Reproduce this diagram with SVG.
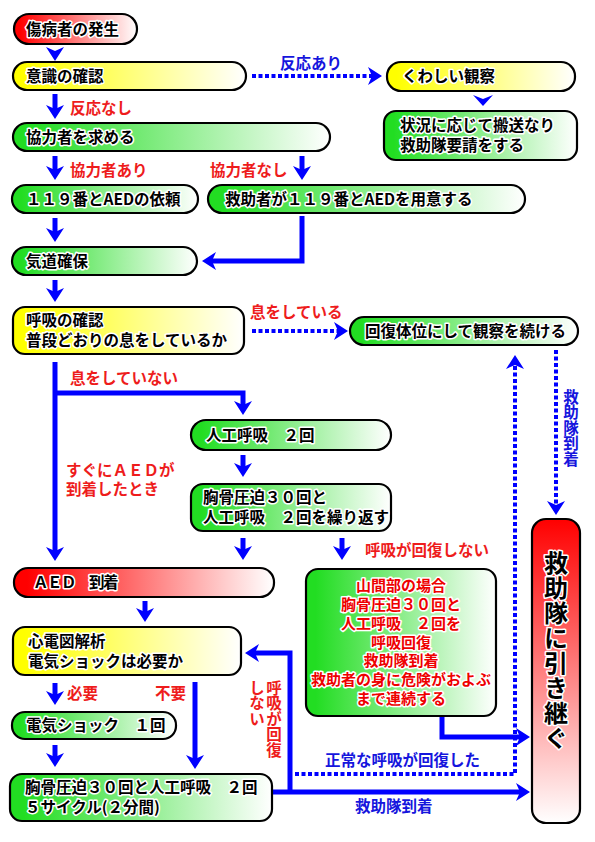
<svg xmlns="http://www.w3.org/2000/svg" width="595" height="842" viewBox="0 0 595 842">
<defs>
<linearGradient id="gR" x1="0" y1="0" x2="1" y2="0"><stop offset="0" stop-color="#ff0000"/><stop offset="0.05" stop-color="#ff0000"/><stop offset="1" stop-color="#ffffff"/></linearGradient>
<linearGradient id="gY" x1="0" y1="0" x2="1" y2="0"><stop offset="0" stop-color="#ffff00"/><stop offset="0.05" stop-color="#ffff00"/><stop offset="1" stop-color="#ffffff"/></linearGradient>
<linearGradient id="gG" x1="0" y1="0" x2="1" y2="0"><stop offset="0" stop-color="#22dd22"/><stop offset="0.05" stop-color="#22dd22"/><stop offset="1" stop-color="#ffffff"/></linearGradient>
<linearGradient id="gRV" x1="0" y1="0" x2="0" y2="1"><stop offset="0" stop-color="#ff0000"/><stop offset="1" stop-color="#ffffff"/></linearGradient>
<marker id="ah" markerUnits="userSpaceOnUse" viewBox="0 0 14 18" markerWidth="14" markerHeight="18" refX="4" refY="9" orient="auto"><path d="M0,0 L14,9 L0,18 L4,9 z" fill="#0000ff"/></marker>
</defs>
<style>
.n rect{stroke:#000;stroke-width:2.2}
.t{font-family:"Noto Sans CJK JP","Noto Sans",sans-serif;font-size:15.5px;font-weight:bold;fill:#000;stroke:#fff;stroke-width:3;paint-order:stroke;stroke-linejoin:round}
.rt{fill:#ee0000;font-size:15px}
.l{font-family:"Noto Sans CJK JP","Noto Sans",sans-serif;font-size:15.5px;font-weight:bold}
.lr{fill:#ee1c1c}
.lb{fill:#1515dd}
.v{writing-mode:vertical-rl;text-orientation:upright}
.c{fill:none;stroke:#0000ff;stroke-width:5;marker-end:url(#ah)}
.d{fill:none;stroke:#0000ff;stroke-width:4;stroke-dasharray:4 2.5;marker-end:url(#ah)}
.h{fill:#0000ff}
</style>

<g id="connectors">
<polygon class="h" points="46,47 55,51 64,47 55,61"/>
<path class="c" d="M55,94 V109"/>
<path class="d" d="M252,76 H372"/>
<polygon class="h" points="473,95 483,99 493,95 483,106"/>
<path class="c" d="M55,156 V170"/>
<path class="c" d="M302,156 V170"/>
<path class="c" d="M55,218 V232"/>
<path class="c" d="M302,216 V261 H212"/>
<path class="c" d="M55,280 V292"/>
<path class="d" d="M252,331 H338"/>
<path class="c" d="M55,362 V551"/>
<path class="c" d="M55,393 H243 V405"/>
<path class="c" d="M243,455 V467"/>
<path class="c" d="M243,538 V550"/>
<path class="c" d="M342,538 V550"/>
<path class="c" d="M145,601 V612"/>
<path class="c" d="M55,683 V695"/>
<path class="c" d="M195,682 V759"/>
<path class="c" d="M55,745 V757"/>
<path class="c" d="M272,792 H520"/>
<path class="c" d="M290,792 V653 H255"/>
<path class="c" d="M442,715 V737 H520"/>
<path class="d" d="M295,774 H515 V365"/>
<path class="d" d="M556,350 V505"/>
</g>

<g id="n1" class="n"><rect x="14" y="14" width="123" height="30" rx="15" fill="url(#gR)"/><text class="t" x="26" y="34.5">傷病者の発生</text></g>
<g id="n2" class="n"><rect x="13" y="62" width="233" height="28" rx="14" fill="url(#gY)"/><text class="t" x="26" y="81.5">意識の確認</text></g>
<g id="n3" class="n"><rect x="13" y="123" width="317" height="28" rx="14" fill="url(#gG)"/><text class="t" x="26" y="142.5">協力者を求める</text></g>
<g id="n4" class="n"><rect x="12" y="185" width="186" height="28" rx="14" fill="url(#gG)"/><text class="t" x="26" y="204.5">１１９番とAEDの依頼</text></g>
<g id="n5" class="n"><rect x="208" y="185" width="317" height="28" rx="14" fill="url(#gG)"/><text class="t" x="225" y="204.5">救助者が１１９番とAEDを用意する</text></g>
<g id="n6" class="n"><rect x="12" y="247" width="185" height="28" rx="14" fill="url(#gG)"/><text class="t" x="26" y="266.5">気道確保</text></g>
<g id="n7" class="n"><rect x="13" y="307" width="231" height="47" rx="12" fill="url(#gY)"/><text class="t" x="26" y="326">呼吸の確認</text><text class="t" x="26" y="346">普段どおりの息をしているか</text></g>
<g id="n8" class="n"><rect x="350" y="317" width="228" height="28" rx="14" fill="url(#gG)"/><text class="t" x="365" y="336.5">回復体位にして観察を続ける</text></g>
<g id="n9" class="n"><rect x="387" y="62" width="188" height="29" rx="14" fill="url(#gY)"/><text class="t" x="402" y="82">くわしい観察</text></g>
<g id="n10" class="n"><rect x="384" y="111" width="193" height="49" rx="12" fill="url(#gG)"/><text class="t" x="400" y="131">状況に応じて搬送なり</text><text class="t" x="400" y="151">救助隊要請をする</text></g>
<g id="n11" class="n"><rect x="191" y="420" width="200" height="30" rx="15" fill="url(#gG)"/><text class="t" x="206" y="440.5">人工呼吸　２回</text></g>
<g id="n12" class="n"><rect x="191" y="484" width="200" height="47" rx="12" fill="url(#gG)"/><text class="t" x="203" y="503">胸骨圧迫３０回と</text><text class="t" x="203" y="523">人工呼吸　２回を繰り返す</text></g>
<g id="n13" class="n"><rect x="14" y="568" width="260" height="29" rx="14" fill="url(#gR)"/><text class="t" x="33" y="588" style="letter-spacing:-1.5px">ＡＥＤ　到着</text></g>
<g id="n14" class="n"><rect x="13" y="627" width="228" height="48" rx="12" fill="url(#gY)"/><text class="t" x="28" y="646.5">心電図解析</text><text class="t" x="28" y="666.5">電気ショックは必要か</text></g>
<g id="n15" class="n"><rect x="12" y="712" width="164" height="27" rx="13" fill="url(#gG)"/><text class="t" x="26" y="731">電気ショック　１回</text></g>
<g id="n16" class="n"><rect x="10" y="774" width="262" height="47" rx="12" fill="url(#gG)"/><text class="t" x="25" y="793">胸骨圧迫３０回と人工呼吸　２回</text><text class="t" x="25" y="813">５サイクル(２分間)</text></g>
<g id="n17" class="n"><rect x="306" y="569" width="190" height="147" rx="12" fill="url(#gG)"/>
<text class="t rt" text-anchor="middle"><tspan x="401" y="591">山間部の場合</tspan><tspan x="401" y="610">胸骨圧迫３０回と</tspan><tspan x="401" y="629">人工呼吸　２回を</tspan><tspan x="401" y="648">呼吸回復</tspan><tspan x="401" y="666">救助隊到着</tspan><tspan x="401" y="685">救助者の身に危険がおよぶ</tspan><tspan x="401" y="704">まで連続する</tspan></text></g>
<g id="n18" class="n"><rect x="532" y="519" width="48" height="304" rx="14" fill="url(#gRV)"/><text class="t v" x="556" y="551" style="font-size:24px;letter-spacing:1px">救助隊に引き継ぐ</text></g>

<g id="labels">
<text class="l lr" x="70" y="114">反応なし</text>
<text class="l lb" x="280" y="69">反応あり</text>
<text class="l lr" x="70" y="176">協力者あり</text>
<text class="l lr" x="210" y="176">協力者なし</text>
<text class="l lr" x="250" y="318">息をしている</text>
<text class="l lr" x="70" y="384">息をしていない</text>
<text class="l lr" x="66" y="476">すぐにＡＥＤが</text>
<text class="l lr" x="66" y="495">到着したとき</text>
<text class="l lr" x="365" y="556">呼吸が回復しない</text>
<text class="l lr" x="67" y="699">必要</text>
<text class="l lr" x="155" y="699">不要</text>
<text class="l lb" x="325" y="766">正常な呼吸が回復した</text>
<text class="l lb" x="355" y="812">救助隊到着</text>
<text class="l lb v" x="571" y="389">救助隊到着</text>
<text class="l lr v" x="274" y="680">呼吸が回復</text>
<text class="l lr v" x="257" y="680">しない</text>
</g>
</svg>
